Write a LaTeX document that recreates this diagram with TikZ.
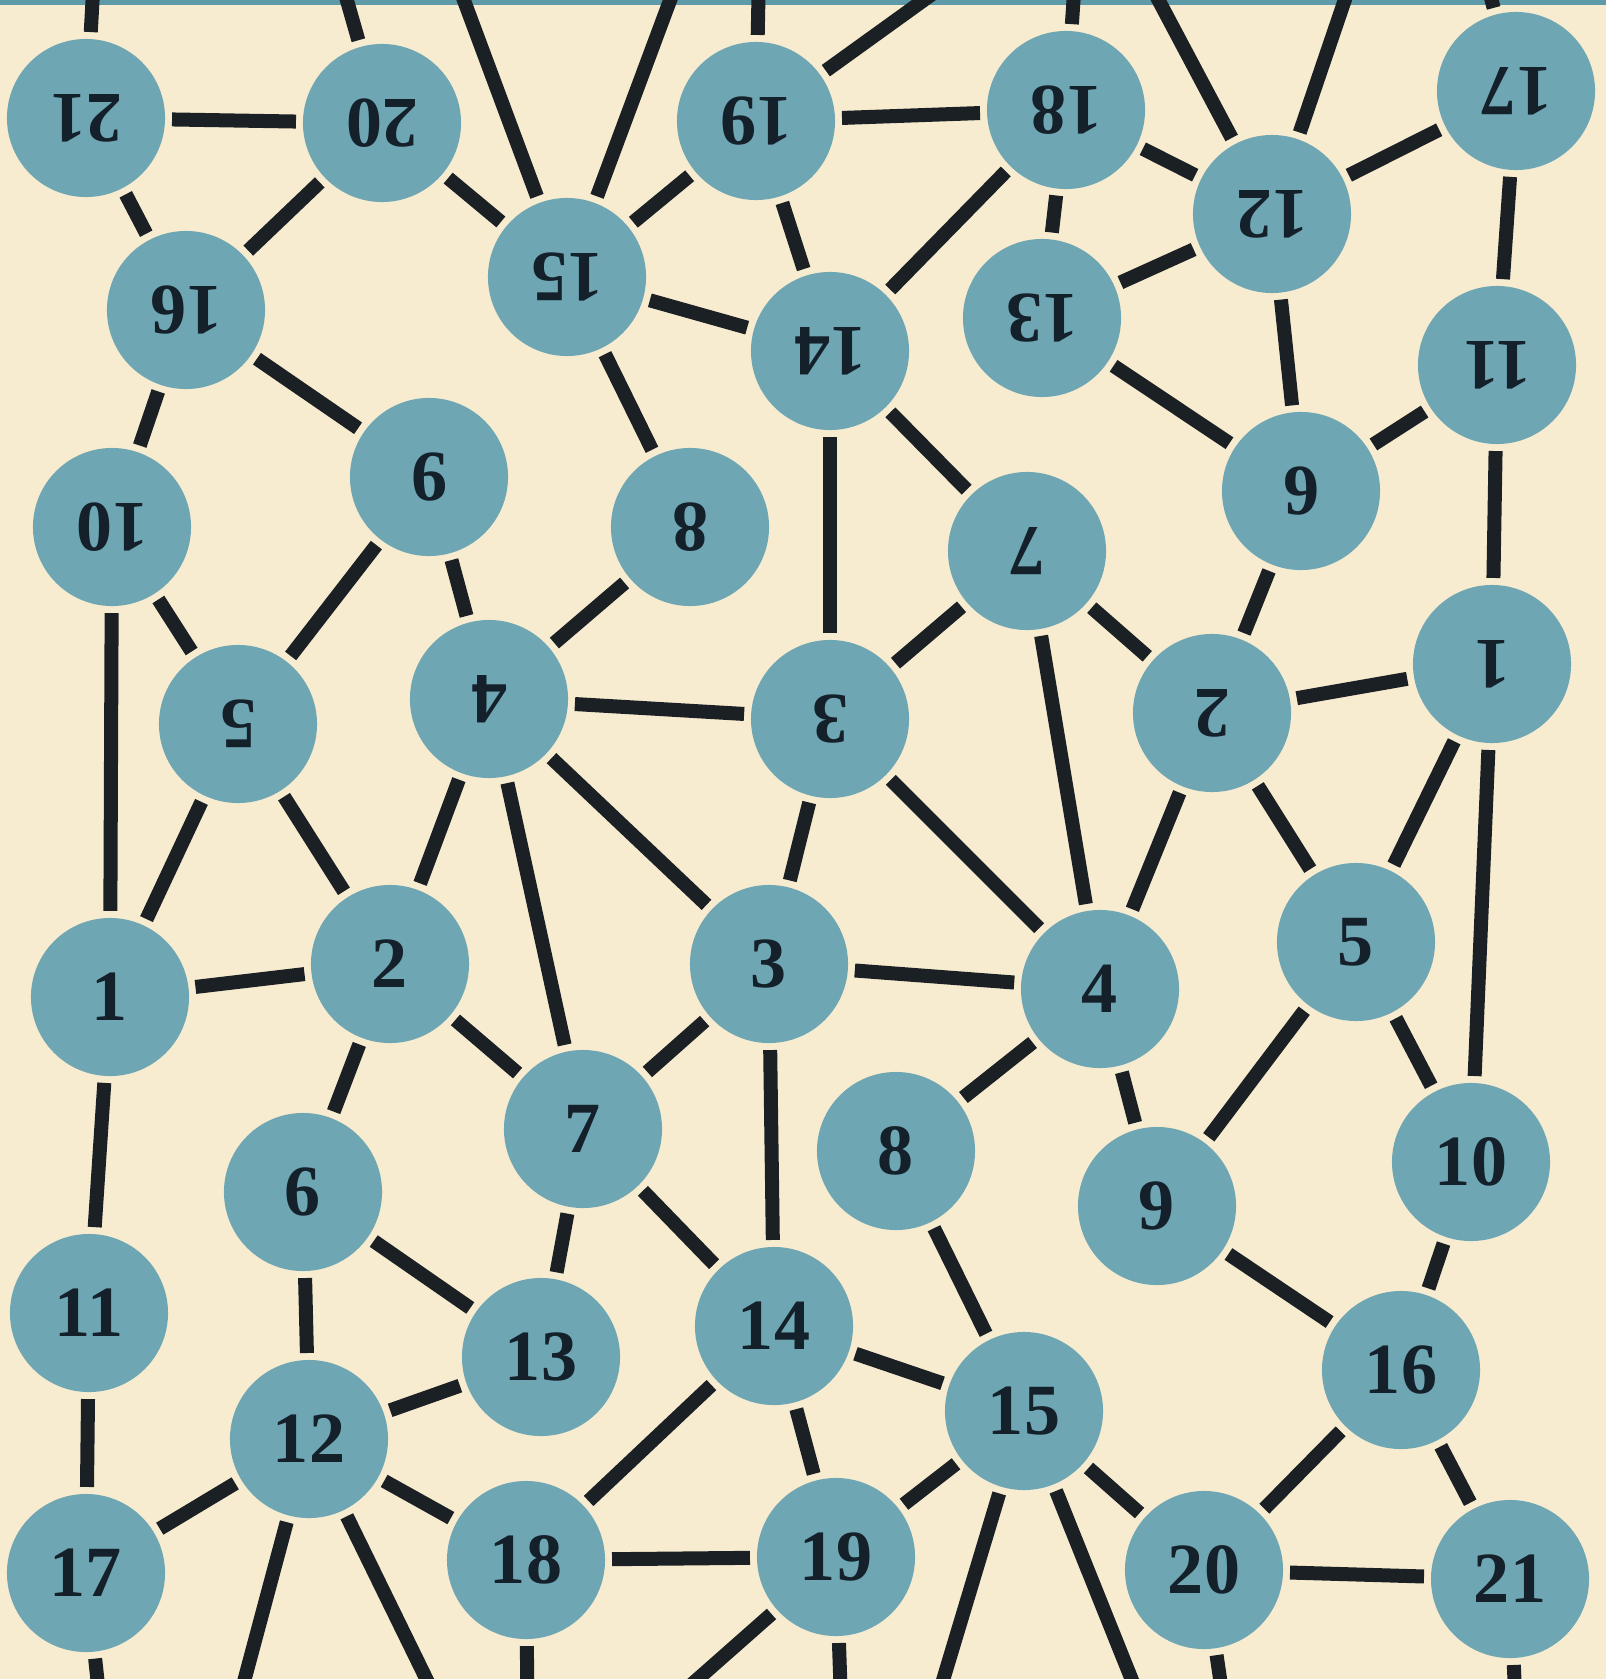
\documentclass[tikz,border=0pt]{standalone}
\usepackage{fontspec}
\setmainfont{Liberation Serif}
\definecolor{paper}{HTML}{F8ECD0}
\definecolor{ballc}{HTML}{6EA6B4}
\definecolor{numc}{HTML}{14202A}
\definecolor{linec}{HTML}{1B2024}
\definecolor{bandc}{HTML}{5E9AA8}
\begin{document}
\begin{tikzpicture}[x=0.01cm,y=-0.01cm,
  ball/.style={circle, fill=ballc, minimum size=1.58cm, inner sep=0pt, outer sep=0.07cm,
    font=\fontsize{20.5}{20.5}\selectfont\bfseries, text=numc},
  tball/.style={ball, rotate=180},
  edge/.style={draw=linec, line width=0.14cm}]
\useasboundingbox (0,0) rectangle (1606,1679);
\fill[paper] (0,0) rectangle (1606,1679);
\clip (0,0) rectangle (1606,1679);
\fill[bandc] (0,0) rectangle (1606,5);

% bottom (upright) nodes
\node[ball] (b1) at (110,997) {1};
\node[ball] (b2) at (390,964) {2};
\node[ball] (b3) at (769,964) {3};
\node[ball] (b4) at (1100,989) {4};
\node[ball] (b5) at (1356,942) {5};
\node[ball] (b6) at (303,1192) {6};
\node[ball] (b7) at (583,1129) {7};
\node[ball] (b8) at (896,1151) {8};
\node[ball] (b9) at (1157,1206) {9};
\node[ball] (b10) at (1471,1162) {10};
\node[ball] (b11) at (89,1313) {11};
\node[ball] (b12) at (309,1439) {12};
\node[ball] (b13) at (541,1357) {13};
\node[ball] (b14) at (774,1326) {14};
\node[ball] (b15) at (1024,1411) {15};
\node[ball] (b16) at (1401,1370) {16};
\node[ball] (b17) at (86,1573) {17};
\node[ball] (b18) at (526,1560) {18};
\node[ball] (b19) at (836,1557) {19};
\node[ball] (b20) at (1204,1570) {20};
\node[ball] (b21) at (1510,1579) {21};

% top (upside-down) nodes
\node[tball] (t1) at (1492,664) {1};
\node[tball] (t2) at (1212,713) {2};
\node[tball] (t3) at (830,719) {3};
\node[tball] (t4) at (489,699) {4};
\node[tball] (t5) at (238,724) {5};
\node[tball] (t6) at (1301,491) {6};
\node[tball] (t7) at (1027,551) {7};
\node[tball] (t8) at (690,527) {8};
\node[tball] (t9) at (429,477) {9};
\node[tball] (t10) at (112,527) {10};
\node[tball] (t11) at (1497,365) {11};
\node[tball] (t12) at (1272,214) {12};
\node[tball] (t13) at (1042,318) {13};
\node[tball] (t14) at (830,351) {14};
\node[tball] (t15) at (567,277) {15};
\node[tball] (t16) at (186,310) {16};
\node[tball] (t17) at (1516,91) {17};
\node[tball] (t18) at (1066,110) {18};
\node[tball] (t19) at (756,121) {19};
\node[tball] (t20) at (382,123) {20};
\node[tball] (t21) at (86,118) {21};

% free ends of connectors leaving the picture
\coordinate (ob17) at (106,1760);
\coordinate (ob12a) at (223,1760);
\coordinate (ob12b) at (466,1760);
\coordinate (ob18) at (528,1760);
\coordinate (ob19a) at (606,1760);
\coordinate (ob19b) at (843,1760);
\coordinate (ob15a) at (919,1760);
\coordinate (ob15b) at (1164,1760);
\coordinate (ob20) at (1232,1760);
\coordinate (ob21) at (1518,1760);
\coordinate (ot21) at (97,-80);
\coordinate (ot20) at (324,-80);
\coordinate (ot15a) at (434,-80);
\coordinate (ot15b) at (700,-80);
\coordinate (ot19a) at (760,-80);
\coordinate (ot19b) at (1035,-80);
\coordinate (ot18) at (1079,-80);
\coordinate (ot12a) at (1116,-80);
\coordinate (ot12b) at (1372,-80);
\coordinate (ot17) at (1470,-80);

% bottom connectors
\foreach \a/\b in {b1/b2, b1/t5, b1/t10, b1/b11, b2/t5, b2/t4, b2/b7, b2/b6,
  b3/t4, b3/t3, b3/b4, b3/b7, b3/b14, t4/b7, b4/t3, b4/t7, b4/t2, b4/b8, b4/b9,
  b5/t2, b5/t1, b5/b9, b5/b10, b10/t1, b10/b16, b6/b13, b6/b12, b7/b13, b7/b14,
  b8/b15, b9/b16, b11/b17, b12/b13, b12/b17, b12/b18, b14/b15, b14/b18, b14/b19,
  b15/b19, b15/b20, b16/b20, b16/b21, b18/b19, b20/b21}
  \draw[edge] (\a) -- (\b);
% top connectors
\foreach \a/\b in {t1/t2, t1/t11, t2/t7, t2/t6, t3/t4, t3/t7, t3/t14, t4/t8, t4/t9,
  t5/t9, t5/t10, t10/t16, t6/t13, t6/t12, t6/t11, t7/t14, t8/t15, t9/t16,
  t11/t17, t12/t13, t12/t17, t12/t18, t13/t18, t14/t15, t14/t18, t14/t19,
  t15/t19, t15/t20, t16/t20, t16/t21, t18/t19, t20/t21}
  \draw[edge] (\a) -- (\b);
% connectors leaving the picture
\foreach \a/\b in {b17/ob17, b12/ob12a, b12/ob12b, b18/ob18, b19/ob19a, b19/ob19b,
  b15/ob15a, b15/ob15b, b20/ob20, b21/ob21, t21/ot21, t20/ot20, t15/ot15a, t15/ot15b,
  t19/ot19a, t19/ot19b, t18/ot18, t12/ot12a, t12/ot12b, t17/ot17}
  \draw[edge] (\a) -- (\b);
\end{tikzpicture}
\end{document}
